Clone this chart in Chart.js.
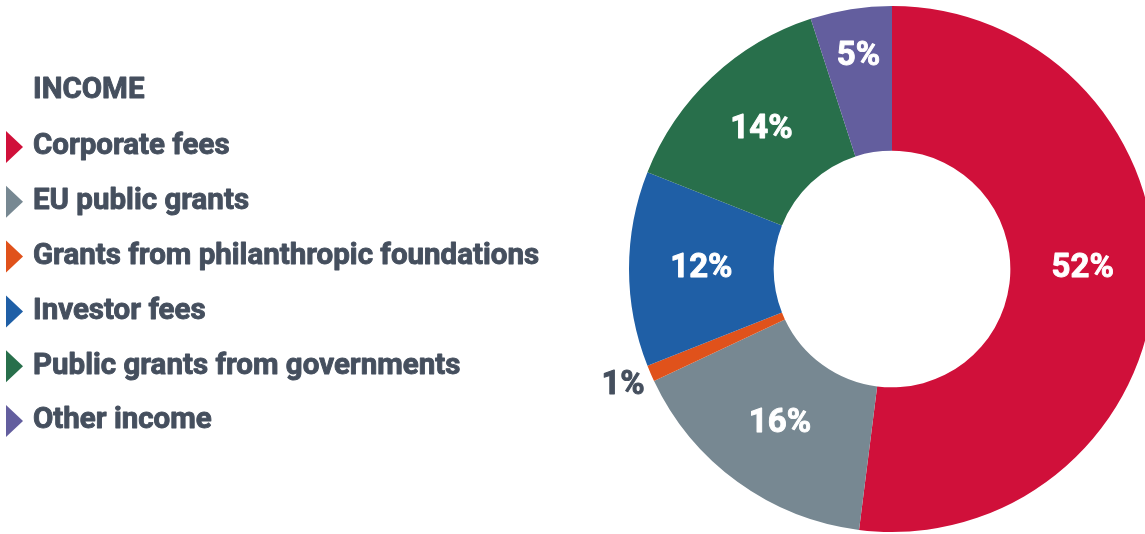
<!DOCTYPE html>
<html>
<head>
<meta charset="utf-8">
<script src="https://cdn.jsdelivr.net/npm/chart.js@4.4.0/dist/chart.umd.min.js"></script>
<style>
  html, body { margin: 0; padding: 0; background: #fff; overflow: hidden; }
  #wrap { position: relative; width: 1165px; height: 534px; }
</style>
</head>
<body>
<div id="wrap"><canvas id="myChart"></canvas></div>
<script>
const categories = [
  'Corporate fees',
  'EU public grants',
  'Grants from philanthropic foundations',
  'Investor fees',
  'Public grants from governments',
  'Other income'
];
const shares = [52, 16, 1, 12, 14, 5];
const colors = ['#d0103a', '#778892', '#e0521b', '#1f5fa6', '#286f4b', '#635e9e'];
const legendTitle = 'INCOME';

const textColor = '#454f5e';
const fontFamily = 'Roboto, "Liberation Sans", sans-serif';

// bold text with a thin outline so it looks as heavy as the original
function heavyText(c, txt, x, y, col) {
  c.fillStyle = col;
  c.strokeStyle = col;
  c.lineWidth = 0.9;
  c.lineJoin = 'round';
  c.strokeText(txt, x, y);
  c.fillText(txt, x, y);
}

// legend on the left, drawn on the canvas
const legendPlugin = {
  id: 'sideLegend',
  afterDraw(chart) {
    const c = chart.ctx;
    c.save();
    c.textBaseline = 'middle';
    c.font = 'bold 29.5px ' + fontFamily;
    heavyText(c, legendTitle, 33, 91, textColor);
    categories.forEach((name, i) => {
      const y = 147 + i * 54.8;
      c.fillStyle = colors[i];
      c.beginPath();
      c.moveTo(6, y - 16);
      c.lineTo(23, y);
      c.lineTo(6, y + 16);
      c.closePath();
      c.fill();
      heavyText(c, name, 33, y, textColor);
    });
    c.restore();
  }
};

// percentage labels on the slices
const labelPlugin = {
  id: 'sliceLabels',
  afterDatasetsDraw(chart) {
    const c = chart.ctx;
    const meta = chart.getDatasetMeta(0);
    c.save();
    c.textAlign = 'center';
    c.textBaseline = 'middle';
    c.font = 'bold 33px ' + fontFamily;
    meta.data.forEach((arc, i) => {
      const v = shares[i];
      let mid = (arc.startAngle + arc.endAngle) / 2;
      let r = (arc.innerRadius + arc.outerRadius) / 2;
      let col = '#ffffff';
      if (v < 3) {
        r = arc.outerRadius + 30;
        col = textColor;
      } else if (v < 8) {
        r = r + 24;
      } else if (v > 50) {
        mid = 0; // big slice label sits level with the centre
      }
      const x = arc.x + Math.cos(mid) * r;
      const y = arc.y + Math.sin(mid) * r;
      heavyText(c, v + '%', x, y, col);
    });
    c.restore();
  }
};

new Chart(document.getElementById('myChart'), {
  type: 'doughnut',
  data: {
    labels: categories,
    datasets: [{
      data: shares,
      backgroundColor: colors,
      borderWidth: 0
    }]
  },
  options: {
    responsive: true,
    maintainAspectRatio: false,
    animation: false,
    cutout: '45%',
    layout: { padding: { left: 619, right: 0, top: 6, bottom: 2 } },
    plugins: {
      legend: { display: false },
      tooltip: { enabled: false }
    }
  },
  plugins: [legendPlugin, labelPlugin]
});
</script>
</body>
</html>
